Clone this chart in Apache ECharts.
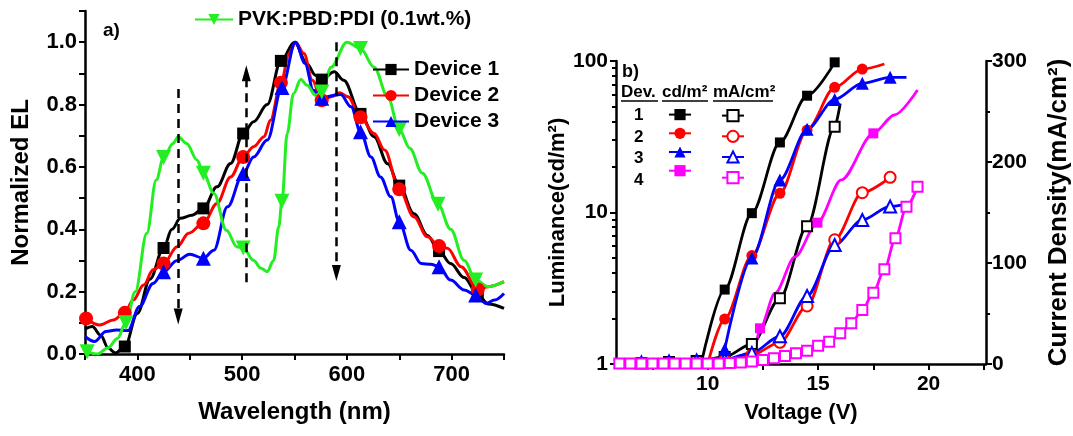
<!DOCTYPE html>
<html><head><meta charset="utf-8">
<script src="https://cdn.jsdelivr.net/npm/echarts@6/dist/echarts.min.js"></script>
<style>html,body{margin:0;padding:0;background:#fff}#c{width:1073px;height:436px}</style>
</head><body><div id="c"></div>
<script>
// ---------- Panel a: normalized EL spectra [wavelength nm, value] ----------
const dev1EL = [[350,0.08],[357,0.088],[365,0.06],[372,0.02],[379,0.003],[388,0.024],[400,0.13],[412,0.24],[425,0.34],[433,0.40],[441,0.435],[452,0.445],[463,0.467],[476,0.536],[489,0.611],[501,0.707],[511,0.745],[524,0.80],[537,0.94],[550,1.0],[562,0.93],[570,0.894],[576,0.88],[588,0.905],[597,0.878],[613,0.77],[626,0.697],[639,0.61],[650,0.54],[664,0.45],[677,0.38],[688,0.33],[699,0.29],[712,0.245],[725,0.19],[735,0.16],[750,0.146]];
const dev1Marks = [388,425,463,501,537,576,613,650,688,725];
const dev2EL = [[351,0.114],[364,0.093],[377,0.109],[388,0.132],[396,0.173],[406,0.221],[415,0.27],[425,0.29],[438,0.344],[449,0.387],[463,0.419],[476,0.483],[489,0.568],[501,0.632],[511,0.665],[521,0.697],[527,0.75],[537,0.87],[545,0.964],[551,1.0],[559,0.964],[567,0.878],[576,0.814],[585,0.825],[593,0.838],[601,0.825],[613,0.759],[626,0.707],[636,0.654],[650,0.528],[664,0.44],[677,0.376],[688,0.346],[696,0.339],[709,0.28],[725,0.207],[735,0.216],[750,0.232]];
const dev2Marks = [351,388,425,463,501,537,576,613,650,688,725];
const dev3EL = [[350,0.056],[359,0.04],[370,0.072],[380,0.077],[391,0.075],[402,0.152],[415,0.226],[425,0.264],[438,0.30],[450,0.32],[463,0.307],[473,0.333],[486,0.472],[501,0.579],[511,0.632],[524,0.686],[538,0.855],[551,1.0],[560,0.932],[568,0.846],[576,0.82],[588,0.83],[594,0.832],[604,0.793],[613,0.713],[623,0.632],[632,0.568],[642,0.504],[650,0.424],[661,0.333],[671,0.29],[680,0.288],[688,0.28],[699,0.237],[712,0.205],[723,0.189],[733,0.162],[741,0.173],[750,0.194]];
const dev3Marks = [425,463,501,538,576,613,650,688,723];
const pvkEL = [[352,0.007],[362,0.0],[372,0.02],[381,0.05],[389,0.10],[398,0.20],[409,0.387],[418,0.558],[425,0.63],[434,0.675],[439,0.697],[447,0.675],[457,0.622],[463,0.58],[473,0.515],[485,0.397],[495,0.344],[501,0.34],[511,0.30],[518,0.275],[524,0.264],[530,0.30],[535,0.408],[538,0.49],[543,0.707],[549,0.835],[556,0.88],[562,0.862],[570,0.83],[576,0.84],[585,0.92],[600,1.0],[613,0.98],[626,0.92],[639,0.825],[650,0.72],[660,0.66],[672,0.58],[687,0.48],[699,0.40],[712,0.30],[723,0.237],[735,0.216],[750,0.232]];
const pvkMarks = [352,389,425,463,501,538,576,613,650,687,723];
// dashed arrows: [wavelength, start value, end value]
const arrows = [[439,0.85,0.12],[504,0.23,0.90],[590,1.0,0.26]];

// ---------- Panel b: luminance [V, cd/m2] and current density [V, mA/cm2] ----------
const lum1 = [[9.7,1.0],[10.77,3.1],[12.0,9.9],[13.27,29],[14.5,59],[15.75,98]];
const lum1Marks = [10.77,12.0,13.27,14.5,15.75];
const lum2 = [[10.0,1.0],[10.77,1.98],[12.0,5.2],[13.27,13.4],[14.5,35],[15.75,67],[17.0,88.5],[18.0,95.5]];
const lum2Marks = [10.77,12.0,13.27,14.5,15.75,17.0];
const lum3 = [[10.77,1.25],[12.0,5.0],[13.27,16.4],[14.5,35.4],[15.75,55.8],[17.0,71.2],[18.26,78],[19.0,78]];
const lum3Marks = [10.77,12.0,13.27,14.5,15.75,17.0,18.26];
const lum4 = [[12.1,1.1],[12.37,1.72],[13.05,2.93],[13.95,5.1],[14.97,8.57],[16.05,16.4],[17.5,33.3],[18.45,44],[19.5,64.4]];
const lum4Marks = [12.37,14.97,17.5];
const cur1 = [[7.0,1],[8.25,2],[9.5,3],[10.77,7],[12.0,19.8],[13.27,65],[14.5,136.5],[15.75,235],[16.0,258]];
const cur1Marks = [7.0,8.25,9.5,10.77,12.0,13.27,14.5,15.75];
const cur2 = [[10.0,1],[10.77,4],[12.0,9],[13.27,21.5],[14.5,57.4],[15.75,123],[17.0,169.6],[18.26,184.8]];
const cur2Marks = [10.77,12.0,13.27,14.5,15.75,17.0,18.26];
const cur3 = [[7.0,1.5],[8.25,2.5],[9.5,3.5],[10.77,4.5],[12.0,11],[13.27,27.5],[14.5,67.3],[15.75,117.8],[17.0,142.6],[18.26,156],[19.0,158.4]];
const cur3Marks = [7.0,8.25,9.5,10.77,12.0,13.27,14.5,15.75,17.0,18.26];
const cur4 = [[6.0,0.5],[6.5,0.5],[7.0,0.5],[7.5,0.5],[8.0,0.5],[8.5,0.5],[9.0,0.5],[9.5,0.5],[10.0,0.5],[10.5,0.6],[11.0,1.0],[11.5,1.5],[12.0,2.5],[12.5,4],[13.0,5.6],[13.5,7.9],[14.0,10.6],[14.5,13.2],[15.0,18],[15.5,22],[16.0,30.4],[16.5,40.3],[17.0,53.5],[17.5,70.6],[18.0,93.8],[18.5,124.5],[19.0,155.8],[19.5,175.5]];
const cur4Marks = cur4.map(p => p[0]);
const devNumbers = ['1','2','3','4'];

// tick values
const xbLabels = [10,15,20];
const xbTicks = [7.5,10,12.5,15,17.5,20,22.5];
const logMinor = [2,3,4,5,6,7,8,9,20,30,40,50,60,70,80,90];

// ---------- build ----------
const FF = '"Liberation Sans", Arial, sans-serif';
const BLACK = '#000000', RED = '#ff0000', BLUE = '#0000ff', GREEN = '#22ee22', MAG = '#ff00ff';
function build(curve, marks){
  return curve.map(p => marks.indexOf(p[0]) >= 0 ? {value:p} : {value:p, symbol:'none'});
}
const axisLineStyle = {color:BLACK, width:2.5};
const tickStyle = {color:BLACK, width:2};
const lblA = {color:BLACK, fontSize:22, fontWeight:'bold', fontFamily:FF};
const nameA = {color:BLACK, fontSize:24, fontWeight:'bold', fontFamily:FF};
const lblB = {color:BLACK, fontSize:21, fontWeight:'bold', fontFamily:FF};
const nameB = {color:BLACK, fontSize:22, fontWeight:'bold', fontFamily:FF};

function elSeries(name, curve, marks, color, symbol, size, rotate){
  return {name, type:'line', xAxisIndex:0, yAxisIndex:0, data:build(curve, marks),
    smooth:0.35, smoothMonotone:'x', symbol, symbolSize:size, symbolRotate:rotate||0, showSymbol:true,
    lineStyle:{color, width:3}, itemStyle:{color}, z:3};
}
function lumSeries(name, curve, marks, color, symbol, size){
  return {name, type:'line', xAxisIndex:1, yAxisIndex:1, data:build(curve, marks),
    smooth:0.3, smoothMonotone:'x', symbol, symbolSize:size, showSymbol:true,
    lineStyle:{color, width:2.8}, itemStyle:{color}, z:3};
}
function curSeries(name, curve, marks, color, symbol, size){
  return {name, type:'line', xAxisIndex:1, yAxisIndex:3, data:build(curve, marks),
    smooth:0.3, smoothMonotone:'x', symbol, symbolSize:size, showSymbol:true,
    lineStyle:{color, width:2.8}, itemStyle:{color, borderColor:color, borderWidth:1.5}, z:3};
}

const series = [
  elSeries('Device 1', dev1EL, dev1Marks, BLACK, 'rect', 12),
  elSeries('Device 2', dev2EL, dev2Marks, RED, 'circle', 14),
  elSeries('Device 3', dev3EL, dev3Marks, BLUE, 'triangle', 15),
  Object.assign(elSeries('PVK:PBD:PDI (0.1wt.%)', pvkEL, pvkMarks, GREEN, 'triangle', 15, 180), {
    markLine:{silent:true, symbol:['none','triangle'], symbolSize:[9,16],
      lineStyle:{color:BLACK, width:2.5, type:[9,6]}, label:{show:false},
      data: arrows.map(a => [{coord:[a[0],a[1]]}, {coord:[a[0],a[2]]}])}
  }),
  curSeries('1 mA', cur1, cur1Marks, BLACK, 'emptyRect', 10),
  curSeries('2 mA', cur2, cur2Marks, RED, 'emptyCircle', 11),
  curSeries('3 mA', cur3, cur3Marks, BLUE, 'emptyTriangle', 12),
  curSeries('4 mA', cur4, cur4Marks, MAG, 'emptyRect', 10),
  lumSeries('1 cd', lum1, lum1Marks, BLACK, 'rect', 10),
  lumSeries('2 cd', lum2, lum2Marks, RED, 'circle', 11),
  lumSeries('3 cd', lum3, lum3Marks, BLUE, 'triangle', 13),
  lumSeries('4 cd', lum4, lum4Marks, MAG, 'rect', 10)
];

const legText = {color:BLACK, fontSize:21, fontWeight:'bold', fontFamily:FF};
const rowTops = [107, 128.5, 150, 171.5];
const option = {
  animation:false,
  backgroundColor:'#ffffff',
  grid:[
    {left:85, right:569, top:11, bottom:82},
    {left:616, right:80, top:61, bottom:72}
  ],
  xAxis:[
    {gridIndex:0, type:'value', min:350, max:750, interval:50,
      axisLine:{onZero:false, lineStyle:axisLineStyle}, axisTick:{length:6, lineStyle:tickStyle},
      axisLabel:Object.assign({margin:10, formatter:v => (v % 100 === 0 ? String(v) : '')}, lblA),
      splitLine:{show:false},
      name:'Wavelength (nm)', nameLocation:'middle', nameGap:46, nameTextStyle:nameA},
    {gridIndex:1, type:'value', min:5.85, max:22.6,
      axisLine:{onZero:false, lineStyle:axisLineStyle},
      axisTick:{length:6, lineStyle:tickStyle, customValues:xbTicks},
      axisLabel:Object.assign({margin:10, customValues:xbLabels}, lblB),
      splitLine:{show:false},
      name:'Voltage (V)', nameLocation:'middle', nameGap:38, nameTextStyle:nameB}
  ],
  yAxis:[
    {gridIndex:0, type:'value', min:0, max:1.1, interval:0.1,
      axisLine:{onZero:false, lineStyle:axisLineStyle}, axisTick:{length:6, lineStyle:tickStyle},
      axisLabel:Object.assign({margin:8, formatter:v => {const k = Math.round(v*10); return (k % 2 === 0 && k <= 10) ? (k/10).toFixed(1) : '';}}, lblA),
      splitLine:{show:false},
      name:'Normalized EL', nameLocation:'middle', nameGap:52, nameTextStyle:nameA},
    {gridIndex:1, type:'log', logBase:10, min:1, max:100,
      axisLine:{onZero:false, lineStyle:axisLineStyle}, axisTick:{length:6, lineStyle:tickStyle},
      axisLabel:Object.assign({margin:8}, lblB),
      splitLine:{show:false},
      name:'Luminance(cd/m²)', nameLocation:'middle', nameGap:40, nameTextStyle:nameB},
    {gridIndex:1, type:'value', min:0, max:2, position:'left',
      axisLine:{show:false}, axisLabel:{show:false}, splitLine:{show:false},
      axisTick:{show:true, length:4, lineStyle:tickStyle, customValues:logMinor.map(v => Math.log10(v))}},
    {gridIndex:1, type:'value', min:0, max:300, interval:100, position:'right',
      axisLine:{onZero:false, lineStyle:axisLineStyle}, axisTick:{length:6, lineStyle:tickStyle},
      minorTick:{show:true, splitNumber:2, length:4, lineStyle:tickStyle},
      axisLabel:Object.assign({margin:6}, lblB),
      splitLine:{show:false}, minorSplitLine:{show:false},
      name:'Current Density(mA/cm²)', nameLocation:'middle', nameRotate:90, nameGap:60,
      nameTextStyle:Object.assign({}, nameB, {fontSize:26})}
  ],
  legend:[
    {data:['PVK:PBD:PDI (0.1wt.%)'], left:194, top:9, padding:0, itemWidth:38, itemHeight:14, selectedMode:false, textStyle:legText},
    {data:['Device 1','Device 2','Device 3'], orient:'vertical', left:372, top:59, padding:0, itemWidth:36, itemHeight:14, itemGap:5, selectedMode:false, textStyle:legText},
    {data:['1 cd','2 cd','3 cd','4 cd'], orient:'vertical', left:668, top:109, padding:0, itemWidth:22, itemHeight:14, itemGap:7.5, selectedMode:false,
      formatter:() => '', textStyle:{fontSize:12, lineHeight:14}},
    {data:['1 mA','2 mA','3 mA','4 mA'], orient:'vertical', left:721, top:109, padding:0, itemWidth:22, itemHeight:14, itemGap:7.5, selectedMode:false,
      formatter:() => '', textStyle:{fontSize:12, lineHeight:14}}
  ],
  graphic:[
    {type:'text', left:103, top:21, style:{text:'a)', font:'bold 19px '+FF, fill:BLACK}},
    {type:'text', left:622, top:63, style:{text:'b)', font:'bold 18px '+FF, fill:BLACK}},
    {type:'text', left:621, top:84, style:{text:'Dev.', font:'bold 17px '+FF, fill:BLACK}},
    {type:'text', left:662, top:84, style:{text:'cd/m²', font:'bold 17px '+FF, fill:BLACK}},
    {type:'text', left:713, top:84, style:{text:'mA/cm²', font:'bold 17px '+FF, fill:BLACK}},
    {type:'line', shape:{x1:621, y1:101, x2:658, y2:101}, style:{stroke:BLACK, lineWidth:1.5}},
    {type:'line', shape:{x1:662, y1:101, x2:708, y2:101}, style:{stroke:BLACK, lineWidth:1.5}},
    {type:'line', shape:{x1:713, y1:101, x2:773, y2:101}, style:{stroke:BLACK, lineWidth:1.5}}
  ].concat(devNumbers.map((t, i) => ({type:'text', left:634, top:rowTops[i], style:{text:t, font:'bold 17px '+FF, fill:BLACK}}))),
  series
};
const chart = echarts.init(document.getElementById('c'), null, {renderer:'canvas'});
chart.setOption(option);
</script>
</body></html>
